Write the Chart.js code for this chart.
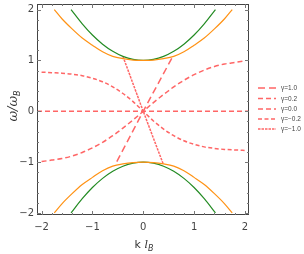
<!DOCTYPE html>
<html>
<head>
<meta charset="utf-8">
<script src="https://cdn.jsdelivr.net/npm/chart.js@4.4.0/dist/chart.umd.min.js"></script>
<style>
  html, body { margin: 0; padding: 0; background: #fff; }
</style>
</head>
<body>
<canvas id="chart" width="304" height="254"></canvas>
<script>
// values
const kGreen = [-1.42, -1.2, -1.0, -0.8, -0.6, -0.4, -0.2, 0, 0.2, 0.4, 0.6, 0.8, 1.0, 1.2, 1.42];
const wGreen = [2.0, 1.72, 1.5, 1.32, 1.18, 1.08, 1.02, 1.0, 1.02, 1.08, 1.18, 1.32, 1.5, 1.72, 2.0];

const kOrange = [-1.75, -1.6, -1.4, -1.2, -1.0, -0.8, -0.6, -0.4, -0.2, 0, 0.2, 0.4, 0.6, 0.8, 1.0, 1.2, 1.4, 1.6, 1.75];
const wOrange = [2.0, 1.82, 1.62, 1.44, 1.3, 1.17, 1.08, 1.035, 1.008, 1.0, 1.008, 1.035, 1.08, 1.17, 1.3, 1.44, 1.62, 1.82, 2.0];

const kCurve = [-2, -1.8, -1.6, -1.4, -1.2, -1.0, -0.8, -0.6, -0.4, -0.2, 0, 0.2, 0.4, 0.6, 0.8, 1.0, 1.2, 1.4, 1.6, 1.8, 2];
const wGamma02 = [-0.99, -0.96, -0.93, -0.88, -0.81, -0.72, -0.61, -0.48, -0.33, -0.17, 0, 0.17, 0.33, 0.48, 0.61, 0.72, 0.81, 0.88, 0.93, 0.96, 0.99];
const wGammaM02 = [0.77, 0.76, 0.75, 0.73, 0.70, 0.65, 0.58, 0.48, 0.35, 0.19, 0, -0.19, -0.35, -0.48, -0.58, -0.65, -0.70, -0.73, -0.75, -0.76, -0.77];

const kGamma10 = [-0.52, 0, 0.565];
const wGamma10 = [-0.99, 0, 1.05];
const kGammaM10 = [-0.4, 0, 0.39];
const wGammaM10 = [1.08, 0, -1.03];
const kGamma00 = [-2.09, 2.08];
const wGamma00 = [0, 0];

const xTicks = [-2, -1, 0, 1, 2];
const yTicks = [-2, -1, 0, 1, 2];

const red = '#ff6666';

function pts(ks, ws, sign) {
  return ks.map((k, i) => ({ x: k, y: (sign || 1) * ws[i] }));
}
function fmt(v) {
  return v < 0 ? '\u2212' + Math.abs(v) : String(v);
}

function band(data, color) {
  return { data, borderColor: color, borderWidth: 1.2, pointRadius: 0, cubicInterpolationMode: 'monotone', fill: false };
}
function redLine(label, data, dash) {
  return { label, data, borderColor: red, borderWidth: 1.5, borderDash: dash, pointRadius: 0,
    cubicInterpolationMode: 'monotone', fill: false, isGamma: true };
}

// frame, inward ticks, titles and legend
const framePlugin = {
  id: 'frame',
  afterDatasetsDraw(chart) {
    const { ctx, chartArea: a, scales: { x, y } } = chart;
    ctx.save();
    ctx.strokeStyle = '#444';
    ctx.lineWidth = 1;
    ctx.strokeRect(a.left + 0.5, a.top + 0.5, a.width - 1, a.height - 1);

    ctx.strokeStyle = '#777';
    for (let i = -10; i <= 10; i++) {
      const v = i / 5;
      const len = i % 5 === 0 ? 4 : 2;
      const px = Math.round(x.getPixelForValue(v)) + 0.5;
      if (px > a.left && px < a.right) {
        ctx.beginPath();
        ctx.moveTo(px, a.bottom); ctx.lineTo(px, a.bottom - len);
        ctx.moveTo(px, a.top); ctx.lineTo(px, a.top + len);
        ctx.stroke();
      }
      const py = Math.round(y.getPixelForValue(v)) + 0.5;
      if (py > a.top && py < a.bottom) {
        ctx.beginPath();
        ctx.moveTo(a.left, py); ctx.lineTo(a.left + len, py);
        ctx.moveTo(a.right, py); ctx.lineTo(a.right - len, py);
        ctx.stroke();
      }
    }

    // y title
    ctx.fillStyle = '#333';
    ctx.textBaseline = 'alphabetic';
    ctx.save();
    ctx.translate(17, 106);
    ctx.rotate(-Math.PI / 2);
    ctx.font = 'italic 13px "DejaVu Serif"';
    const main = '\u03c9/\u03c9';
    const mw = ctx.measureText(main).width;
    ctx.font = 'italic 8px "DejaVu Sans"';
    const sw = ctx.measureText('B').width;
    let sx = -(mw + sw) / 2;
    ctx.font = 'italic 13px "DejaVu Serif"';
    ctx.fillText(main, sx, 0);
    ctx.font = 'italic 8px "DejaVu Sans"';
    ctx.fillText('B', sx + mw, 3);
    ctx.restore();

    // x title
    ctx.font = '11px "DejaVu Sans"';
    const kw = ctx.measureText('k ').width;
    ctx.font = 'italic 11px "DejaVu Serif"';
    const lw = ctx.measureText('l').width;
    ctx.font = 'italic 8px "DejaVu Sans"';
    const bw = ctx.measureText('B').width;
    let tx = 144 - (kw + lw + bw) / 2;
    ctx.font = '11px "DejaVu Sans"';
    ctx.fillText('k ', tx, 248);
    ctx.font = 'italic 11px "DejaVu Serif"';
    ctx.fillText('l', tx + kw, 248);
    ctx.font = 'italic 8px "DejaVu Sans"';
    ctx.fillText('B', tx + kw + lw, 251);

    // legend
    const rows = [88, 98.5, 109, 119, 129];
    const items = chart.data.datasets.filter(d => d.isGamma);
    ctx.font = '6.5px "Liberation Sans"';
    ctx.textBaseline = 'middle';
    items.forEach((d, i) => {
      ctx.strokeStyle = red;
      ctx.lineWidth = 1.5;
      ctx.setLineDash(d.borderDash);
      ctx.beginPath();
      ctx.moveTo(258, rows[i]);
      ctx.lineTo(276, rows[i]);
      ctx.stroke();
      ctx.setLineDash([]);
      ctx.fillStyle = '#444';
      ctx.fillText(d.label, 281, rows[i] + 0.5);
    });
    ctx.restore();
  }
};

function noPad(s) {
  s.paddingTop = 0; s.paddingBottom = 0; s.paddingLeft = 0; s.paddingRight = 0;
}

new Chart(document.getElementById('chart'), {
  type: 'line',
  data: {
    datasets: [
      band(pts(kOrange, wOrange), '#ff9214'),
      band(pts(kOrange, wOrange, -1), '#ff9214'),
      band(pts(kGreen, wGreen), '#238b23'),
      band(pts(kGreen, wGreen, -1), '#238b23'),
      redLine('\u03b3=1.0', pts(kGamma10, wGamma10), [7, 4]),
      redLine('\u03b3=0.2', pts(kCurve, wGamma02), [5, 3]),
      redLine('\u03b3=0.0', pts(kGamma00, wGamma00), [5, 3]),
      redLine('\u03b3=\u22120.2', pts(kCurve, wGammaM02), [4, 2.5]),
      redLine('\u03b3=\u22121.0', pts(kGammaM10, wGammaM10), [2.5, 1])
    ]
  },
  options: {
    responsive: false,
    animation: false,
    layout: { padding: { top: 4, right: 55, left: 0, bottom: 0 } },
    plugins: { legend: { display: false }, tooltip: { enabled: false } },
    scales: {
      x: {
        type: 'linear', min: -2.09, max: 2.08,
        afterBuildTicks: s => { s.ticks = xTicks.map(v => ({ value: v })); },
        afterFit: s => { s.height = 39; noPad(s); },
        grid: { display: false, drawTicks: false },
        border: { display: false },
        ticks: { color: '#444', padding: 6, font: { size: 10, family: 'DejaVu Sans' }, callback: fmt, maxRotation: 0 }
      },
      y: {
        type: 'linear', min: -2.04, max: 2.11,
        afterBuildTicks: s => { s.ticks = yTicks.map(v => ({ value: v })); },
        afterFit: s => { s.width = 37; noPad(s); },
        grid: { display: false, drawTicks: false },
        border: { display: false },
        ticks: { color: '#444', padding: 3, font: { size: 10, family: 'DejaVu Sans' }, callback: fmt }
      }
    }
  },
  plugins: [framePlugin]
});
</script>
</body>
</html>
